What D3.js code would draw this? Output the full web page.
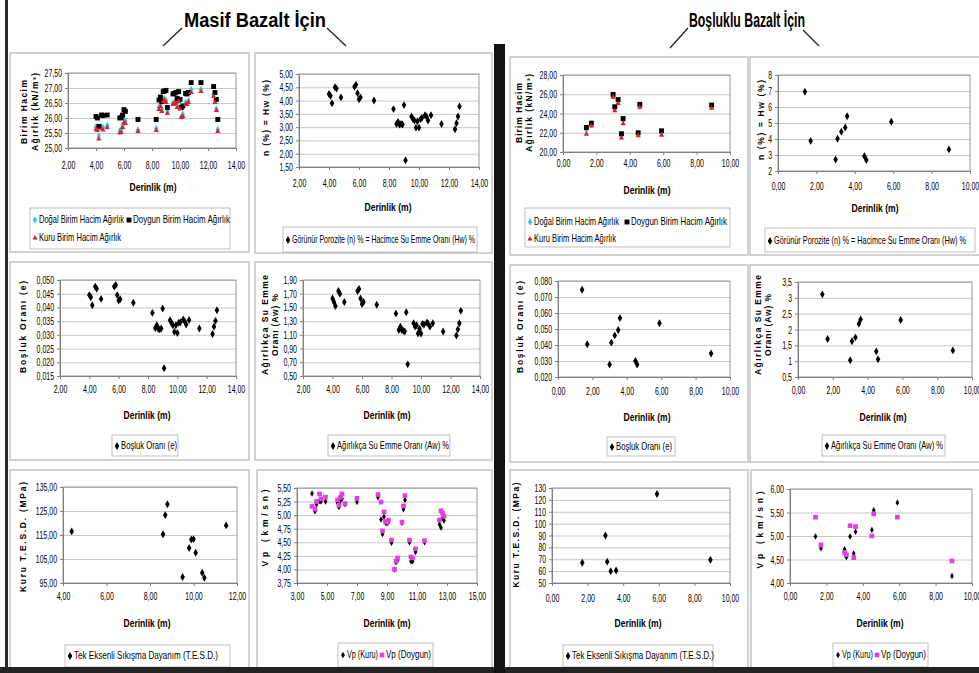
<!DOCTYPE html>
<html lang="tr">
<head>
<meta charset="UTF-8">
<title>Masif / Boşluklu Bazalt</title>
<script src="https://d3js.org/d3.v7.min.js"></script>
<style>
  body { margin: 0; background: #fff; }
  svg { display: block; font-family: "Liberation Sans Narrow", "Liberation Sans", Arial, sans-serif; }
  .axis text { font-size: 11px; fill: #000; }
  .axis .domain, .axis .tick line { stroke: #808080; }
  .grid line { stroke: #c8c8c8; }
  .grid .domain { display: none; }
</style>
</head>
<body>
<svg id="chart" width="979" height="673"></svg>
<script>
// ---------- Masif Bazalt ----------
const depthM = [4.0, 4.1, 4.2, 4.4, 4.5, 4.8, 5.7, 5.8, 5.9, 6.0, 6.1, 7.0, 8.3, 8.5, 8.6, 8.7, 8.8, 8.9, 9.0, 9.1,
                9.5, 9.6, 9.7, 9.8, 9.9, 10.0, 10.1, 10.2, 10.4, 10.5, 10.6, 10.8, 11.5, 12.4, 12.5, 12.6, 12.7];
const doygunM = [26.05, 26.00, 25.72, 26.10, 26.08, 26.10, 26.00, 26.02, 26.10, 26.28, 26.22, 25.95, 25.95, 26.60, 26.70, 26.55, 26.88, 26.90, 26.92, 26.35,
                 26.80, 26.82, 26.85, 26.65, 26.88, 26.62, 26.35, 26.40, 26.82, 26.80, 26.85, 27.18, 27.18, 27.05, 26.85, 26.62, 25.95];
const dogalM  = [25.70, 25.65, 25.40, 25.72, 25.68, 25.75, 25.58, 25.62, 25.75, 25.95, 25.90, 25.60, 25.65, 26.35, 26.45, 26.30, 26.62, 26.65, 26.58, 26.22,
                 26.50, 26.52, 26.55, 26.40, 26.60, 26.35, 26.05, 26.12, 26.52, 26.50, 26.58, 26.95, 26.95, 26.78, 26.58, 26.30, 25.62];
const kuruM   = [25.62, 25.58, 25.30, 25.65, 25.60, 25.68, 25.50, 25.52, 25.68, 25.85, 25.82, 25.55, 25.58, 26.28, 26.38, 26.22, 26.55, 26.58, 26.52, 26.15,
                 26.45, 26.48, 26.50, 26.35, 26.55, 26.30, 26.02, 26.05, 26.45, 26.45, 26.52, 26.85, 26.88, 26.72, 26.52, 26.25, 25.55];
const porozM  = [4.25, 4.18, 3.90, 4.50, 4.45, 4.12, 4.52, 4.60, 4.28, 4.05, 4.12, 4.00, 3.68, 3.12, 3.20, 3.10, 3.12, 3.10, 3.83, 1.75,
                 3.40, 3.30, 3.25, 2.98, 3.22, 2.98, 3.30, 3.35, 3.45, 3.40, 3.25, 3.45, 3.12, 2.92, 3.15, 3.40, 3.78];
const boslukM = [0.0445, 0.0437, 0.0408, 0.0476, 0.0468, 0.0431, 0.0476, 0.0482, 0.0445, 0.0425, 0.0430, 0.0417, 0.0380, 0.0325, 0.0335, 0.0322, 0.0320, 0.0323, 0.0396, 0.0178,
                 0.0353, 0.0344, 0.0335, 0.0311, 0.0335, 0.0307, 0.0344, 0.0345, 0.0356, 0.0350, 0.0338, 0.0354, 0.0323, 0.0303, 0.0330, 0.0351, 0.0390];
const agirlikM = [1.63, 1.58, 1.52, 1.74, 1.70, 1.58, 1.74, 1.77, 1.63, 1.55, 1.58, 1.54, 1.41, 1.17, 1.22, 1.17, 1.16, 1.15, 1.43, 0.67,
                  1.27, 1.22, 1.24, 1.12, 1.19, 1.12, 1.26, 1.25, 1.28, 1.26, 1.22, 1.27, 1.15, 1.09, 1.18, 1.27, 1.45];
const tesdDepthM = [4.4, 8.6, 8.7, 8.8, 9.5, 9.8, 9.9, 10.0, 10.1, 10.4, 10.5, 11.5];
const tesdM      = [116.5, 115.3, 123.3, 127.8, 97.5, 109.6, 113.1, 113.3, 107.6, 99.3, 97.2, 119.0];
const vpDepthM  = [4.0, 4.2, 4.3, 4.5, 4.6, 4.9, 5.7, 5.8, 5.9, 6.0, 6.2, 7.0, 8.4, 8.6, 8.7, 8.8, 8.9, 9.0, 9.1, 9.3,
                   9.5, 9.6, 9.7, 10.0, 10.1, 10.2, 10.5, 10.6, 10.7, 10.9, 11.5, 12.5, 12.6, 12.7, 12.8];
const vpKuruM   = [5.40, 5.07, 5.20, 5.26, 5.25, 5.25, 5.23, 5.15, 5.27, 5.30, 5.20, 5.24, 5.33, 4.92, 4.65, 4.97, 4.86, 4.85, 4.88, 4.49,
                   4.00, 4.13, 4.17, 4.86, 5.11, 5.28, 4.50, 4.15, 4.15, 4.32, 4.50, 4.83, 4.77, 4.95, 4.90];
const vpDoygunM = [5.16, 5.11, 5.25, 5.39, 5.30, 5.33, 5.28, 5.18, 5.33, 5.39, 5.21, 5.31, 5.38, 5.24, 4.71, 5.06, 4.88, 4.87, 4.91, 4.54,
                   4.00, 4.15, 4.21, 4.87, 5.17, 5.36, 4.54, 4.23, 4.21, 4.38, 4.53, 4.91, 5.08, 5.04, 4.98];

// ---------- Boşluklu Bazalt ----------
const depthB   = [1.4, 1.7, 3.0, 3.1, 3.3, 3.5, 3.6, 4.5, 4.6, 5.9, 8.9];
const doygunB  = [22.55, 23.00, 25.98, 24.70, 25.45, 21.90, 23.48, 22.00, 24.95, 22.20, 24.88];
const dogalB   = [22.25, 22.85, 25.80, 24.50, 25.25, 21.65, 23.25, 21.85, 24.78, 21.98, 24.70];
const kuruB    = [21.85, 22.70, 25.70, 24.30, 25.05, 21.45, 22.95, 21.70, 24.65, 21.75, 24.55];
const porozB   = [6.95, 3.88, 2.72, 4.02, 4.45, 4.72, 5.42, 2.92, 2.68, 5.08, 3.35];
const boslukB  = [0.0745, 0.0405, 0.0278, 0.0415, 0.0460, 0.0494, 0.0568, 0.0300, 0.0278, 0.0536, 0.0347];
const agirlikB = [3.11, 1.70, 1.03, 1.63, 1.75, 2.18, 2.32, 1.31, 1.06, 2.30, 1.34];
const tesdDepthB = [1.7, 3.0, 3.1, 3.3, 3.6, 5.9, 8.9];
const tesdB      = [67, 90, 68, 60, 60.5, 125, 69.5];
const vpKuruB   = [4.99, 4.74, 4.72, 4.55, 4.99, 4.63, 5.09, 5.13, 5.55, 5.71, 4.15];
const vpDoygunB = [5.40, 4.81, 4.65, 4.60, 5.22, 4.54, 5.20, 5.00, 5.47, 5.40, 4.47];

// ---------- tick labels ----------
const ticksDepthM = [2, 4, 6, 8, 10, 12, 14];
const ticksDepthB = [0, 2, 4, 6, 8, 10];
const ticksTesdDepthM = [4, 6, 8, 10, 12];
const ticksVpDepthM = [3, 5, 7, 9, 11, 13, 15];
const ticksUwM = [25, 25.5, 26, 26.5, 27, 27.5];
const ticksUwB = [20, 22, 24, 26, 28];
const ticksPorozM = [1.5, 2, 2.5, 3, 3.5, 4, 4.5, 5];
const ticksPorozB = [2, 3, 4, 5, 6, 7, 8];
const ticksBoslukM = [0.015, 0.02, 0.025, 0.03, 0.035, 0.04, 0.045, 0.05];
const ticksBoslukB = [0.02, 0.03, 0.04, 0.05, 0.06, 0.07, 0.08];
const ticksAgirlikM = [0.5, 0.7, 0.9, 1.1, 1.3, 1.5, 1.7, 1.9];
const ticksAgirlikB = [0.5, 1, 1.5, 2, 2.5, 3, 3.5];
const ticksTesdM = [95, 105, 115, 125, 135];
const ticksTesdB = [50, 60, 70, 80, 90, 100, 110, 120, 130];
const ticksVpM = [3.75, 4, 4.25, 4.5, 4.75, 5, 5.25, 5.5];
const ticksVpB = [4, 4.5, 5, 5.5, 6];

const fx = n => v => v.toFixed(n).replace(".", ",");
const gen = v => String(v).replace(".", ",");

// marker styles
const M = {
  dogal:  { type: d3.symbolDiamond, size: 16, color: "#33cccc" },
  doygun: { type: d3.symbolSquare, size: 24, color: "#000" },
  kuru:   { type: d3.symbolTriangle, size: 12, color: "#e0202a" },
  dia:    { type: d3.symbolDiamond, size: 18, color: "#000" },
  vpKuru: { type: d3.symbolDiamond, size: 12, color: "#000" },
  vpDoy:  { type: d3.symbolSquare, size: 22, color: "#e040e0" }
};

const svg = d3.select("#chart");

const uwTitle = [{ text: "Birim Hacim", dx: 0, len: 64 }, { text: "Ağırlık (kN/m³)", dx: 11, len: 78 }];
const awTitle = [{ text: "Ağırlıkça Su Emme", dx: 0, len: 100 }, { text: "Oranı (Aw) %", dx: 10, len: 62 }];

const panels = [
  { box: [10, 53, 249, 252], plot: [68, 73, 236, 148], xTicks: ticksDepthM, xFmt: fx(2), yTicks: ticksUwM, yFmt: fx(2), xPad: 10,
    series: [{ m: M.dogal, xs: depthM, ys: dogalM }, { m: M.doygun, xs: depthM, ys: doygunM }, { m: M.kuru, xs: depthM, ys: kuruM }],
    derin: [153, 188], legend: [30, 208, 230, 249],
    items: [{ m: M.dogal, x: 35, y: 220, t: "Doğal Birim Hacim Ağırlık", len: 85 },
            { m: M.doygun, x: 129, y: 220, t: "Doygun Birim Hacim Ağırlık", len: 97 },
            { m: M.kuru, x: 35, y: 238, t: "Kuru Birim Hacim Ağırlık", len: 82 }],
    yTitle: { x: 25, cy: 112, lines: uwTitle } },
  { box: [255, 53, 492, 253], plot: [299, 74, 479, 167], xTicks: ticksDepthM, xFmt: fx(2), yTicks: ticksPorozM, yFmt: fx(2), xPad: 9,
    series: [{ m: M.dia, xs: depthM, ys: porozM }],
    derin: [388, 208], legend: [283, 227, 477, 252],
    items: [{ m: M.dia, x: 288, y: 240, t: "Görünür Porozite (n) % = Hacimce Su Emme Oranı (Hw) %", len: 183 }],
    yTitle: { x: 267, cy: 118, lines: [{ text: "n (%) = Hw (%)", dx: 0, len: 76 }] } },
  { box: [510, 57, 748, 255], plot: [563, 75, 730, 152], xTicks: ticksDepthB, xFmt: fx(2), yTicks: ticksUwB, yFmt: fx(2), xPad: 4,
    series: [{ m: M.dogal, xs: depthB, ys: dogalB }, { m: M.doygun, xs: depthB, ys: doygunB }, { m: M.kuru, xs: depthB, ys: kuruB }],
    derin: [647, 191], legend: [525, 208, 730, 247],
    items: [{ m: M.dogal, x: 530, y: 222, t: "Doğal Birim Hacim Ağırlık", len: 85 },
            { m: M.doygun, x: 627, y: 222, t: "Doygun Birim Hacim Ağırlık", len: 96 },
            { m: M.kuru, x: 530, y: 239, t: "Kuru Birim Hacim Ağırlık", len: 82 }],
    yTitle: { x: 520, cy: 113, lines: [{ text: "Birim Hacim", dx: 0, len: 60 }, { text: "Ağırlık (kN/m³)", dx: 10, len: 78 }] } },
  { box: [750, 57, 990, 255], plot: [778, 75, 970, 171], xTicks: ticksDepthB, xFmt: fx(2), yTicks: ticksPorozB, yFmt: gen, xPad: 8,
    series: [{ m: M.dia, xs: depthB, ys: porozB }],
    derin: [875, 209], legend: [765, 228, 975, 252],
    items: [{ m: M.dia, x: 770, y: 241, t: "Görünür Porozite (n) % = Hacimce Su Emme Oranı (Hw) %", len: 192 }],
    yTitle: { x: 762, cy: 120, lines: [{ text: "n (%) = Hw (%)", dx: 0, len: 80 }] } },

  { box: [10, 262, 249, 460], plot: [60, 280, 236, 376], xTicks: ticksDepthM, xFmt: fx(2), yTicks: ticksBoslukM, yFmt: fx(3), xPad: 6,
    series: [{ m: M.dia, xs: depthM, ys: boslukM }],
    derin: [147, 416], legend: [112, 435, 178, 456],
    items: [{ m: M.dia, x: 117, y: 446, t: "Boşluk Oranı (e)", len: 56 }],
    yTitle: { x: 24, cy: 327, lines: [{ text: "Boşluk Oranı (e)", dx: 0, len: 92 }] } },
  { box: [255, 262, 492, 460], plot: [303, 280, 480, 376], xTicks: ticksDepthM, xFmt: fx(2), yTicks: ticksAgirlikM, yFmt: fx(2), xPad: 6,
    series: [{ m: M.dia, xs: depthM, ys: agirlikM }],
    derin: [387, 416], legend: [328, 435, 450, 456],
    items: [{ m: M.dia, x: 333, y: 446, t: "Ağırlıkça Su Emme Oranı (Aw) %", len: 112 }],
    yTitle: { x: 266, cy: 325, lines: awTitle } },
  { box: [510, 265, 748, 462], plot: [558, 281, 730, 377], xTicks: ticksDepthB, xFmt: fx(2), yTicks: ticksBoslukB, yFmt: fx(3), xPad: 7,
    series: [{ m: M.dia, xs: depthB, ys: boslukB }],
    derin: [647, 418], legend: [607, 437, 675, 456],
    items: [{ m: M.dia, x: 612, y: 447, t: "Boşluk Oranı (e)", len: 56 }],
    yTitle: { x: 521, cy: 327, lines: [{ text: "Boşluk Oranı (e)", dx: 0, len: 92 }] } },
  { box: [750, 265, 990, 462], plot: [798, 282, 972, 377], xTicks: ticksDepthB, xFmt: fx(2), yTicks: ticksAgirlikB, yFmt: gen, xPad: 6,
    series: [{ m: M.dia, xs: depthB, ys: agirlikB }],
    derin: [883, 418], legend: [822, 435, 945, 456],
    items: [{ m: M.dia, x: 827, y: 446, t: "Ağırlıkça Su Emme Oranı (Aw) %", len: 112 }],
    yTitle: { x: 759, cy: 325, lines: [{ text: "Ağırlıkça Su Emme", dx: 0, len: 100 }, { text: "Oranı (Aw) %", dx: 10, len: 62 }] } },

  { box: [10, 470, 249, 668], plot: [63, 487, 237, 583], xTicks: ticksTesdDepthM, xFmt: fx(2), yTicks: ticksTesdM, yFmt: fx(2), xPad: 6,
    series: [{ m: M.dia, xs: tesdDepthM, ys: tesdM }],
    derin: [147, 624], legend: [65, 645, 230, 667],
    items: [{ m: M.dia, x: 70, y: 656, t: "Tek Eksenli Sıkışma Dayanım (T.E.S.D.)", len: 144 }],
    yTitle: { x: 24, cy: 537, lines: [{ text: "Kuru T.E.S.D. (MPa)", dx: 0, len: 110 }] } },
  { box: [257, 470, 492, 668], plot: [297, 488, 477, 583], xTicks: ticksVpDepthM, xFmt: fx(2), yTicks: ticksVpM, yFmt: fx(2), xPad: 6,
    series: [{ m: M.vpKuru, xs: vpDepthM, ys: vpKuruM }, { m: M.vpDoy, xs: vpDepthM, ys: vpDoygunM }],
    derin: [387, 624], legend: [338, 643, 433, 667],
    items: [{ m: M.vpKuru, x: 343, y: 655, t: "Vp (Kuru)", len: 31 }, { m: M.vpDoy, x: 382, y: 655, t: "Vp (Doygun)", len: 45 }],
    yTitle: { x: 266, cy: 528, lines: [{ text: "Vp (km/sn)", dx: 0, len: 77 }] } },
  { box: [510, 470, 748, 668], plot: [552, 488, 730, 583], xTicks: ticksDepthB, xFmt: fx(2), yTicks: ticksTesdB, yFmt: gen, xPad: 8,
    series: [{ m: M.dia, xs: tesdDepthB, ys: tesdB }],
    derin: [638, 624], legend: [563, 645, 713, 667],
    items: [{ m: M.dia, x: 568, y: 656, t: "Tek Eksenli Sıkışma Dayanım (T.E.S.D.)", len: 142 }],
    yTitle: { x: 517, cy: 535, lines: [{ text: "Kuru T.E.S.D. (MPa)", dx: 0, len: 105 }] } },
  { box: [751, 470, 990, 668], plot: [790, 489, 972, 583], xTicks: ticksDepthB, xFmt: fx(2), yTicks: ticksVpB, yFmt: fx(2), xPad: 6,
    series: [{ m: M.vpKuru, xs: depthB, ys: vpKuruB }, { m: M.vpDoy, xs: depthB, ys: vpDoygunB }],
    derin: [880, 624], legend: [833, 643, 928, 667],
    items: [{ m: M.vpKuru, x: 838, y: 655, t: "Vp (Kuru)", len: 31 }, { m: M.vpDoy, x: 877, y: 655, t: "Vp (Doygun)", len: 45 }],
    yTitle: { x: 761, cy: 530, lines: [{ text: "Vp (km/sn)", dx: 0, len: 77 }] } }
];

// condensed tick labels, like the narrow chart font of the original
function squeeze(sel) {
  sel.selectAll(".tick text").each(function () {
    const s = this.textContent;
    const digits = s.replace(/[^0-9]/g, "").length;
    const commas = s.length - digits;
    d3.select(this).attr("textLength", digits * 3.8 + commas * 2.2)
      .attr("lengthAdjust", "spacingAndGlyphs");
  });
}

function drawPanel(p) {
  const g = svg.append("g");
  const [bx0, by0, bx1, by1] = p.box;
  g.append("rect").attr("x", bx0).attr("y", by0).attr("width", bx1 - bx0).attr("height", by1 - by0)
    .attr("fill", "#fff").attr("stroke", "#c4c4c4").attr("stroke-width", 1.5);

  const [x0, y0, x1, y1] = p.plot;
  const x = d3.scaleLinear().domain(d3.extent(p.xTicks)).range([x0, x1]);
  const y = d3.scaleLinear().domain(d3.extent(p.yTicks)).range([y1, y0]);

  g.append("g").attr("class", "grid").attr("transform", `translate(${x0},0)`)
    .call(d3.axisLeft(y).tickValues(p.yTicks).tickSize(-(x1 - x0)).tickFormat(""));
  g.append("rect").attr("x", x0).attr("y", y0).attr("width", x1 - x0).attr("height", y1 - y0)
    .attr("fill", "none").attr("stroke", "#9a9a9a");

  g.append("g").attr("class", "axis").attr("transform", `translate(0,${y1})`)
    .call(d3.axisBottom(x).tickValues(p.xTicks).tickFormat(p.xFmt).tickSize(3).tickSizeOuter(0).tickPadding(p.xPad))
    .call(squeeze);
  g.append("g").attr("class", "axis").attr("transform", `translate(${x0},0)`)
    .call(d3.axisLeft(y).tickValues(p.yTicks).tickFormat(p.yFmt).tickSize(3).tickSizeOuter(0).tickPadding(3))
    .call(squeeze);

  p.series.forEach(s => {
    g.append("g").selectAll("path")
      .data(s.xs.map((d, i) => [d, s.ys[i]]))
      .join("path")
      .attr("transform", d => `translate(${x(d[0])},${y(d[1])})`)
      .attr("d", d3.symbol(s.m.type, s.m.size))
      .attr("fill", s.m.color);
  });

  // x axis title
  g.append("text").attr("x", p.derin[0]).attr("y", p.derin[1]).attr("text-anchor", "middle")
    .attr("dominant-baseline", "middle").attr("font-size", 11).attr("font-weight", "bold")
    .attr("textLength", 47).attr("lengthAdjust", "spacingAndGlyphs").text("Derinlik (m)");

  // y axis title
  p.yTitle.lines.forEach(l => {
    g.append("text")
      .attr("transform", `translate(${p.yTitle.x + l.dx},${p.yTitle.cy}) rotate(-90)`)
      .attr("text-anchor", "middle").attr("dominant-baseline", "middle")
      .attr("font-family", "Liberation Sans, Arial, sans-serif")
      .attr("font-size", 8.5).attr("font-weight", "bold")
      .attr("textLength", l.len).attr("lengthAdjust", "spacing")
      .text(l.text);
  });

  // legend
  const [lx0, ly0, lx1, ly1] = p.legend;
  g.append("rect").attr("x", lx0).attr("y", ly0).attr("width", lx1 - lx0).attr("height", ly1 - ly0)
    .attr("fill", "#fff").attr("stroke", "#b0b0b0").attr("stroke-width", 0.8);
  p.items.forEach(it => {
    g.append("path").attr("transform", `translate(${it.x},${it.y})`)
      .attr("d", d3.symbol(it.m.type, it.m.size)).attr("fill", it.m.color);
    g.append("text").attr("x", it.x + 4).attr("y", it.y).attr("dominant-baseline", "middle")
      .attr("font-size", 10.5).attr("textLength", it.len).attr("lengthAdjust", "spacingAndGlyphs")
      .text(it.t);
  });
}

panels.forEach(drawPanel);

// frame and separator
svg.append("rect").attr("x", 5).attr("y", 0).attr("width", 3).attr("height", 673).attr("fill", "#2a2a2a");
svg.append("rect").attr("x", 0).attr("y", 667).attr("width", 979).attr("height", 6).attr("fill", "#222");
svg.append("rect").attr("x", 494).attr("y", 44).attr("width", 11).attr("height", 629).attr("fill", "#111");

// header titles
const titles = [
  { t: "Masif Bazalt İçin", cx: 255, len: 142, l: [163, 46, 182, 28], r: [327, 28, 346, 46] },
  { t: "Boşluklu Bazalt İçin", cx: 747, len: 116, l: [670, 48, 688, 28], r: [803, 30, 819, 46] }
];
titles.forEach(h => {
  svg.append("text").attr("x", h.cx).attr("y", 27).attr("text-anchor", "middle")
    .attr("font-size", 20).attr("font-weight", "bold")
    .attr("textLength", h.len).attr("lengthAdjust", "spacingAndGlyphs").text(h.t);
  [h.l, h.r].forEach(s => svg.append("line").attr("x1", s[0]).attr("y1", s[1]).attr("x2", s[2]).attr("y2", s[3])
    .attr("stroke", "#222").attr("stroke-width", 1.3));
});
</script>
</body>
</html>
